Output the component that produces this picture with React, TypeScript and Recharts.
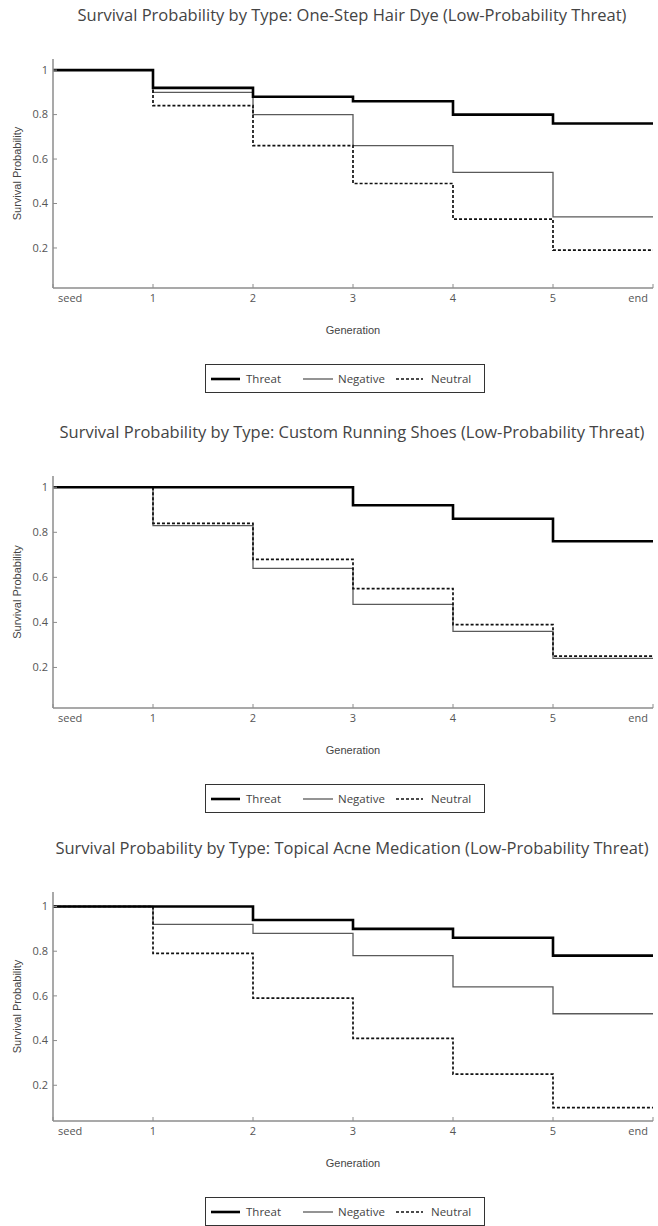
import { Line, LineChart, XAxis, YAxis } from 'recharts'

const GENERATIONS = [0, 1, 2, 3, 4, 5, 6]
const GEN_LABELS = ['seed', '1', '2', '3', '4', '5', 'end']
const Y_TICKS = [0.2, 0.4, 0.6, 0.8, 1]

const HAIR_DYE_TITLE =
  'Survival Probability by Type: One-Step Hair Dye (Low-Probability Threat)'
const HAIR_DYE_THREAT = [1, 0.92, 0.88, 0.86, 0.8, 0.76, 0.76]
const HAIR_DYE_NEGATIVE = [1, 0.9, 0.8, 0.66, 0.54, 0.34, 0.34]
const HAIR_DYE_NEUTRAL = [1, 0.84, 0.66, 0.49, 0.33, 0.19, 0.19]

const SHOES_TITLE =
  'Survival Probability by Type: Custom Running Shoes (Low-Probability Threat)'
const SHOES_THREAT = [1, 1, 1, 0.92, 0.86, 0.76, 0.76]
const SHOES_NEGATIVE = [1, 0.83, 0.64, 0.48, 0.36, 0.24, 0.24]
const SHOES_NEUTRAL = [1, 0.84, 0.68, 0.55, 0.39, 0.25, 0.25]

const ACNE_TITLE =
  'Survival Probability by Type: Topical Acne Medication (Low-Probability Threat)'
const ACNE_THREAT = [1, 1, 0.94, 0.9, 0.86, 0.78, 0.78]
const ACNE_NEGATIVE = [1, 0.92, 0.88, 0.78, 0.64, 0.52, 0.52]
const ACNE_NEUTRAL = [1, 0.79, 0.59, 0.41, 0.25, 0.1, 0.1]

const SERIES = [
  { key: 'negative', name: 'Negative', stroke: '#5a5a5a', width: 1.3, dash: undefined },
  { key: 'neutral', name: 'Neutral', stroke: '#111', width: 1.7, dash: '3 2' },
  { key: 'threat', name: 'Threat', stroke: '#000', width: 2.6, dash: undefined },
]
const LEGEND_ORDER = ['threat', 'negative', 'neutral']

const AXIS_COLOR = '#8c8c8c'
const TICK_FONT = '"Open Sans", sans-serif'
const LABEL_FONT = '"Liberation Sans", Arial, sans-serif'

const PLOT_TOP = 59
const PLOT_LEFT = 53
const PLOT_RIGHT = 653
const X_AXIS_HEIGHT = 50

type ChartProps = {
  title: string
  threat: number[]
  negative: number[]
  neutral: number[]
  top: number
  blockHeight: number
  plotHeight: number
  yDomain: [number, number]
}

function GenTick(props: any) {
  const { x, y, payload } = props
  const i = payload.value as number
  const anchor = i === 0 ? 'start' : i === 6 ? 'end' : 'middle'
  const dx = i === 0 ? 5 : i === 6 ? -5 : 0
  return (
    <text
      x={x + dx}
      y={y}
      dy={18}
      textAnchor={anchor}
      fill="#555"
      fontSize={11}
      fontFamily={TICK_FONT}
    >
      {GEN_LABELS[i]}
    </text>
  )
}

// recharts clones the label element with its own x/y, so the position goes in under other names
function AxisTitle({ posX, posY, text, rotate }: { posX: number; posY: number; text: string; rotate?: boolean }) {
  return (
    <text
      x={posX}
      y={posY}
      textAnchor="middle"
      fill="#444"
      fontSize={11}
      fontFamily={LABEL_FONT}
      transform={rotate ? `rotate(-90 ${posX} ${posY})` : undefined}
      dy={4}
    >
      {text}
    </text>
  )
}

function LegendBox({ top }: { top: number }) {
  const items = [
    { x: 6, len: 29, textX: 41 },
    { x: 98, len: 30, textX: 133 },
    { x: 191, len: 27, textX: 226 },
  ]
  return (
    <svg
      width={281}
      height={30}
      style={{ position: 'absolute', left: 205, top, overflow: 'visible' }}
    >
      <rect x={0.5} y={0.5} width={279} height={28} fill="#fff" stroke="#333" strokeWidth={1} />
      {LEGEND_ORDER.map((key, idx) => {
        const s = SERIES.find((d) => d.key === key)!
        const it = items[idx]
        return (
          <g key={key}>
            <line
              x1={it.x}
              x2={it.x + it.len}
              y1={15}
              y2={15}
              stroke={s.stroke}
              strokeWidth={s.width}
              strokeDasharray={s.dash}
            />
            <text x={it.textX} y={19} fontSize={11.5} fill="#444" fontFamily={TICK_FONT}>
              {s.name}
            </text>
          </g>
        )
      })}
    </svg>
  )
}

function SurvivalChart({
  title,
  threat,
  negative,
  neutral,
  top,
  blockHeight,
  plotHeight,
  yDomain,
}: ChartProps) {
  const data = GENERATIONS.map((g, i) => ({
    gen: g,
    threat: threat[i],
    negative: negative[i],
    neutral: neutral[i],
  }))
  const plotBottom = PLOT_TOP + plotHeight
  const midX = (PLOT_LEFT + PLOT_RIGHT) / 2

  return (
    <div style={{ position: 'absolute', left: 0, top, width: 658, height: blockHeight }}>
      <div
        style={{
          position: 'absolute',
          left: midX - 1,
          top: 4,
          transform: 'translateX(-50%)',
          whiteSpace: 'nowrap',
          fontFamily: TICK_FONT,
          fontSize: 16.5,
          color: '#444',
          lineHeight: '22px',
        }}
      >
        {title}
      </div>
      <div style={{ position: 'absolute', left: 0, top: 0 }}>
        <LineChart
          width={658}
          height={blockHeight}
          data={data}
          margin={{
            top: PLOT_TOP,
            right: 658 - PLOT_RIGHT,
            left: 13,
            bottom: blockHeight - plotBottom - X_AXIS_HEIGHT,
          }}
        >
          <XAxis
            dataKey="gen"
            type="number"
            domain={[0, 6]}
            ticks={GENERATIONS}
            interval={0}
            height={X_AXIS_HEIGHT}
            tick={<GenTick />}
            tickSize={-4}
            tickMargin={0}
            axisLine={{ stroke: AXIS_COLOR, strokeWidth: 1.5 }}
            tickLine={{ stroke: AXIS_COLOR, strokeWidth: 1 }}
            label={<AxisTitle posX={midX} posY={plotBottom + 42} text="Generation" />}
          />
          <YAxis
            type="number"
            domain={yDomain}
            allowDataOverflow
            ticks={Y_TICKS}
            interval={0}
            width={40}
            tickSize={-4}
            tickMargin={9}
            tickFormatter={(v: number) => String(v)}
            tick={{ fill: '#555', fontSize: 11, fontFamily: TICK_FONT }}
            axisLine={{ stroke: AXIS_COLOR, strokeWidth: 1.5 }}
            tickLine={{ stroke: AXIS_COLOR, strokeWidth: 1 }}
            label={
              <AxisTitle
                posX={17}
                posY={PLOT_TOP + plotHeight / 2}
                text="Survival Probability"
                rotate
              />
            }
          />
          {SERIES.map((s) => (
            <Line
              key={s.key}
              type="stepAfter"
              dataKey={s.key}
              name={s.name}
              stroke={s.stroke}
              strokeWidth={s.width}
              strokeDasharray={s.dash}
              dot={false}
              activeDot={false}
              isAnimationActive={false}
            />
          ))}
        </LineChart>
      </div>
      <LegendBox top={plotBottom + 76} />
    </div>
  )
}

export default function App() {
  return (
    <div
      style={{
        position: 'absolute',
        left: 0,
        top: 0,
        width: 658,
        height: 1226,
        background: '#fff',
        overflow: 'hidden',
      }}
    >
      <SurvivalChart
        title={HAIR_DYE_TITLE}
        threat={HAIR_DYE_THREAT}
        negative={HAIR_DYE_NEGATIVE}
        neutral={HAIR_DYE_NEUTRAL}
        top={0}
        blockHeight={417}
        plotHeight={229}
        yDomain={[0.02, 1.05]}
      />
      <SurvivalChart
        title={SHOES_TITLE}
        threat={SHOES_THREAT}
        negative={SHOES_NEGATIVE}
        neutral={SHOES_NEUTRAL}
        top={417}
        blockHeight={416}
        plotHeight={232}
        yDomain={[0.02, 1.05]}
      />
      <SurvivalChart
        title={ACNE_TITLE}
        threat={ACNE_THREAT}
        negative={ACNE_NEGATIVE}
        neutral={ACNE_NEUTRAL}
        top={833}
        blockHeight={393}
        plotHeight={229}
        yDomain={[0.04, 1.065]}
      />
    </div>
  )
}
